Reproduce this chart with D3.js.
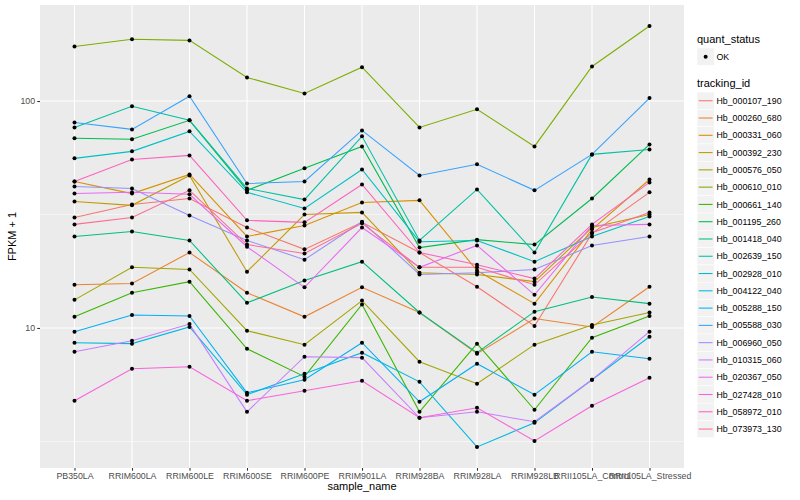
<!DOCTYPE html>
<html lang="en">
<head>
<meta charset="utf-8" />
<title>FPKM by sample</title>
<script src="https://d3js.org/d3.v7.min.js"></script>
<style>
    body { margin: 0; background: #fff; }
    text { font-family: "Liberation Sans", Arial, Helvetica, sans-serif; }
    .tick-label { font-size: 8.8px; fill: #4d4d4d; }
    .axis-title { font-size: 11px; fill: #000; }
    .legend-title { font-size: 11px; fill: #000; }
    .legend-label { font-size: 8.8px; fill: #000; }
</style>
</head>
<body>
<svg width="800" height="500"></svg>
<script>
    // samples on the x axis
    var samples = ["PB350LA", "RRIM600LA", "RRIM600LE", "RRIM600SE", "RRIM600PE", "RRIM901LA",
                   "RRIM928BA", "RRIM928LA", "RRIM928LB", "RRII105LA_Control", "RRII105LA_Stressed"];

    // FPKM + 1, one array per gene, in sample order
    var hb_000107_190 = [30.7, 35.0, 37.2, 27.7, 22.2, 29.2, 21.5, 15.2, 10.2, 26.1, 39.6];
    var hb_000260_680 = [15.5, 15.7, 21.5, 14.3, 11.2, 15.1, 11.7, 7.70, 11.0, 10.1, 15.2];
    var hb_000331_060 = [44.2, 39.1, 47.5, 25.3, 28.3, 35.7, 36.5, 17.9, 12.8, 27.2, 45.1];
    var hb_000392_230 = [36.1, 34.7, 47.0, 17.7, 31.6, 32.3, 17.5, 17.2, 16.0, 27.7, 31.6];
    var hb_000576_050 = [13.3, 18.5, 18.1, 9.73, 8.44, 13.2, 7.10, 5.68, 8.44, 10.3, 11.7];
    var hb_000610_010 = [174, 187, 185, 127, 108, 141, 76.5, 91.9, 63.1, 142, 214];
    var hb_000661_140 = [11.2, 14.3, 16.0, 8.10, 6.10, 12.7, 4.27, 8.53, 4.36, 9.06, 11.3];
    var hb_001195_260 = [68.5, 67.8, 82.2, 40.4, 50.5, 63.1, 22.6, 24.5, 23.3, 37.2, 64.4];
    var hb_001418_040 = [25.3, 26.6, 24.3, 12.9, 16.2, 19.6, 11.7, 7.78, 11.8, 13.7, 12.8];
    var hb_002639_150 = [76.5, 94.8, 82.2, 41.2, 36.8, 69.9, 24.3, 40.8, 21.5, 58.2, 61.2];
    var hb_002928_010 = [55.9, 60.0, 73.5, 39.6, 33.6, 49.9, 24.0, 24.3, 19.6, 25.3, 31.0];
    var hb_004122_040 = [8.61, 8.53, 10.1, 5.08, 6.28, 7.78, 5.79, 2.99, 3.82, 5.91, 9.15];
    var hb_005288_150 = [9.63, 11.4, 11.3, 5.18, 5.91, 8.61, 4.73, 6.96, 5.08, 7.86, 7.32];
    var hb_005588_030 = [80.5, 75.0, 105, 43.3, 44.2, 74.2, 47.0, 52.6, 40.4, 58.2, 103];
    var hb_006960_050 = [42.0, 41.2, 31.3, 24.3, 20.0, 29.4, 17.2, 17.5, 18.1, 23.1, 25.3];
    var hb_010315_060 = [7.86, 8.79, 10.4, 4.27, 7.47, 7.40, 4.02, 4.27, 3.86, 5.91, 9.63];
    var hb_020367_050 = [39.1, 39.6, 38.8, 22.8, 15.1, 27.7, 18.5, 23.1, 14.0, 28.3, 28.6];
    var hb_027428_010 = [4.78, 6.61, 6.75, 4.78, 5.29, 5.85, 4.02, 4.45, 3.18, 4.54, 6.03];
    var hb_058972_010 = [44.2, 55.3, 57.6, 29.8, 29.2, 42.9, 21.5, 19.0, 16.5, 28.6, 43.8];
    var hb_073973_130 = [28.6, 30.7, 40.4, 23.3, 21.3, 28.9, 18.5, 18.5, 15.5, 26.3, 32.3];

    var trackingIds = ["Hb_000107_190", "Hb_000260_680", "Hb_000331_060", "Hb_000392_230", "Hb_000576_050",
                       "Hb_000610_010", "Hb_000661_140", "Hb_001195_260", "Hb_001418_040", "Hb_002639_150",
                       "Hb_002928_010", "Hb_004122_040", "Hb_005288_150", "Hb_005588_030", "Hb_006960_050",
                       "Hb_010315_060", "Hb_020367_050", "Hb_027428_010", "Hb_058972_010", "Hb_073973_130"];
    var fpkm = [hb_000107_190, hb_000260_680, hb_000331_060, hb_000392_230, hb_000576_050,
                hb_000610_010, hb_000661_140, hb_001195_260, hb_001418_040, hb_002639_150,
                hb_002928_010, hb_004122_040, hb_005288_150, hb_005588_030, hb_006960_050,
                hb_010315_060, hb_020367_050, hb_027428_010, hb_058972_010, hb_073973_130];
    var quantStatus = ["OK"];
    var yTicks = [10, 100];

    // ggplot default hue palette for 20 groups
    var palette = ["#F8766D", "#EA8331", "#D89000", "#C09B00", "#A3A500", "#7CAE00", "#39B600", "#00BB4E",
                   "#00BF7D", "#00C1A3", "#00BFC4", "#00BAE0", "#00B0F6", "#35A2FF", "#9590FF", "#C77CFF",
                   "#E76BF3", "#FA62DB", "#FF62BC", "#FF6C91"];

    var series = trackingIds.map(function (id, i) {
        return { id: id, values: fpkm[i].map(function (v, j) { return { sample: samples[j], value: v }; }) };
    });

    var svg = d3.select("svg"),
        panel = { left: 40, right: 684, top: 5, bottom: 468 };

    svg.append("rect").attr("width", 800).attr("height", 500).attr("fill", "#fff");

    var x = d3.scalePoint().domain(samples).range([panel.left, panel.right]).padding(0.6);

    // log scale with 5% expansion like ggplot
    var all = d3.merge(fpkm);
    var lo = Math.log10(d3.min(all)), hi = Math.log10(d3.max(all)), pad = (hi - lo) * 0.05;
    var y = d3.scaleLog().domain([Math.pow(10, lo - pad), Math.pow(10, hi + pad)]).range([panel.bottom, panel.top]);

    var color = d3.scaleOrdinal().domain(trackingIds).range(palette);

    var g = svg.append("g");

    g.append("rect")
        .attr("x", panel.left).attr("y", panel.top)
        .attr("width", panel.right - panel.left).attr("height", panel.bottom - panel.top)
        .attr("fill", "#ebebeb");

    // minor grid at half decades
    var minor = [Math.pow(10, 0.5), Math.pow(10, 1.5), Math.pow(10, 2.5)].filter(function (v) {
        return v > y.domain()[0] && v < y.domain()[1];
    });
    g.selectAll(".minor").data(minor).enter().append("line")
        .attr("x1", panel.left).attr("x2", panel.right)
        .attr("y1", y).attr("y2", y)
        .attr("stroke", "#fff").attr("stroke-width", 0.53);

    g.selectAll(".major-y").data(yTicks).enter().append("line")
        .attr("x1", panel.left).attr("x2", panel.right)
        .attr("y1", y).attr("y2", y)
        .attr("stroke", "#fff").attr("stroke-width", 1.07);

    g.selectAll(".major-x").data(samples).enter().append("line")
        .attr("x1", x).attr("x2", x)
        .attr("y1", panel.top).attr("y2", panel.bottom)
        .attr("stroke", "#fff").attr("stroke-width", 1.07);

    var line = d3.line()
        .x(function (d) { return x(d.sample); })
        .y(function (d) { return y(d.value); });

    g.selectAll(".series").data(series).enter().append("path")
        .attr("d", function (d) { return line(d.values); })
        .attr("fill", "none")
        .attr("stroke", function (d) { return color(d.id); })
        .attr("stroke-width", 1.07);

    g.selectAll(".pt").data(d3.merge(series.map(function (s) { return s.values; }))).enter().append("circle")
        .attr("cx", function (d) { return x(d.sample); })
        .attr("cy", function (d) { return y(d.value); })
        .attr("r", 2)
        .attr("fill", "#000");

    // axes
    var yAxis = d3.axisLeft(y).tickValues(yTicks).tickFormat(d3.format("d")).tickSize(2.75).tickPadding(2.2);
    var ya = svg.append("g").attr("transform", "translate(" + panel.left + ",0)").call(yAxis);
    ya.select(".domain").remove();
    ya.selectAll("line").attr("stroke", "#333").attr("stroke-width", 1.07);
    ya.selectAll("text").attr("class", "tick-label").attr("font-family", null).attr("font-size", null).attr("fill", null);

    var xAxis = d3.axisBottom(x).tickSize(2.75).tickPadding(2.2);
    var xa = svg.append("g").attr("transform", "translate(0," + panel.bottom + ")").call(xAxis);
    xa.select(".domain").remove();
    xa.selectAll("line").attr("stroke", "#333").attr("stroke-width", 1.07);
    xa.selectAll("text").attr("class", "tick-label").attr("font-family", null).attr("font-size", null).attr("fill", null);

    svg.append("text").attr("class", "axis-title")
        .attr("x", (panel.left + panel.right) / 2).attr("y", 490)
        .attr("text-anchor", "middle").text("sample_name");

    svg.append("text").attr("class", "axis-title")
        .attr("transform", "translate(16," + (panel.top + panel.bottom) / 2 + ") rotate(-90)")
        .attr("text-anchor", "middle").text("FPKM + 1");

    // legends
    var keySize = 17.28, legX = 697;

    svg.append("text").attr("class", "legend-title").attr("x", legX).attr("y", 43).text("quant_status");
    var qs = svg.selectAll(".qs").data(quantStatus).enter().append("g")
        .attr("transform", function (d, i) { return "translate(" + legX + "," + (48 + i * keySize) + ")"; });
    qs.append("rect").attr("width", keySize).attr("height", keySize).attr("fill", "#f2f2f2").attr("stroke", "#fff").attr("stroke-width", 0.5);
    qs.append("circle").attr("cx", keySize / 2).attr("cy", keySize / 2).attr("r", 2).attr("fill", "#000");
    qs.append("text").attr("class", "legend-label").attr("x", keySize + 2.2).attr("y", keySize / 2 + 3.1).text(function (d) { return d; });

    svg.append("text").attr("class", "legend-title").attr("x", legX).attr("y", 86.5).text("tracking_id");
    var tk = svg.selectAll(".tk").data(trackingIds).enter().append("g")
        .attr("transform", function (d, i) { return "translate(" + legX + "," + (92.1 + i * keySize) + ")"; });
    tk.append("rect").attr("width", keySize).attr("height", keySize).attr("fill", "#f2f2f2").attr("stroke", "#fff").attr("stroke-width", 0.5);
    tk.append("line")
        .attr("x1", 1.7).attr("x2", keySize - 1.7)
        .attr("y1", keySize / 2).attr("y2", keySize / 2)
        .attr("stroke", function (d) { return color(d); })
        .attr("stroke-width", 1.07);
    tk.append("text").attr("class", "legend-label").attr("x", keySize + 2.2).attr("y", keySize / 2 + 3.1).text(function (d) { return d; });
</script>
</body>
</html>
